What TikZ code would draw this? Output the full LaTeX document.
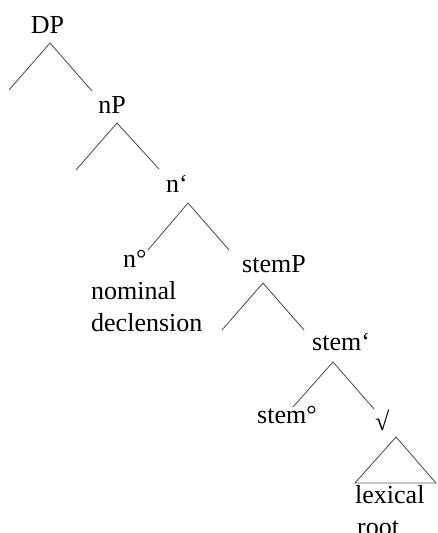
\documentclass[tikz,border=0pt]{standalone}
\usepackage{fontspec}
\setmainfont{Liberation Serif}
\usepackage{tikz}
\usetikzlibrary{positioning}

\begin{document}
\begin{tikzpicture}[
    x=1pt, y=-1pt,
    label/.style={inner sep=0pt, anchor=base west, font=\fontsize{26}{32}\selectfont},
    branch/.style={draw=black!65, line width=0.9pt}
]
\useasboundingbox (0,0) rectangle (437,533);

% Nœuds
\node[label, anchor=base] (dp) at (47.5,33) {DP};
\node[label, anchor=base] (np) at (112,113) {nP};
\node[label] (nbar) at (166,192) {n‘};
\node[label] (nhead) at (123,267) {n°};
\node[label, align=left] (decl) at (91,331) {nominal\\declension};
\node[label] (stemp) at (242,272) {stemP};
\node[label] (stembar) at (312,350) {stem‘};
\node[label] (stemhead) at (257,423) {stem°};
\node[label] (root) at (375,430) {√};
\node[label] (lex) at (355,503) {lexical};
\node[label] (rootw) at (357,535) {root};

% Points des branches
\coordinate (dp-top) at (50,43);   \coordinate (dp-l) at (9,90);    \coordinate (dp-r) at (92,91);
\coordinate (np-top) at (117,123); \coordinate (np-l) at (76,170);   \coordinate (np-r) at (159,169);
\coordinate (nbar-top) at (188,203); \coordinate (nbar-l) at (148,250); \coordinate (nbar-r) at (229,250);
\coordinate (stemp-top) at (263,283); \coordinate (stemp-l) at (222,330); \coordinate (stemp-r) at (304,330);
\coordinate (stembar-top) at (333,362); \coordinate (stembar-l) at (293,407); \coordinate (stembar-r) at (374,409);
\coordinate (tri-top) at (396,437); \coordinate (tri-l) at (355,483); \coordinate (tri-r) at (436,483);

% Branches
\draw[branch] (dp-l) -- (dp-top) -- (dp-r);
\draw[branch] (np-l) -- (np-top) -- (np-r);
\draw[branch] (nbar-l) -- (nbar-top) -- (nbar-r);
\draw[branch] (stemp-l) -- (stemp-top) -- (stemp-r);
\draw[branch] (stembar-l) -- (stembar-top) -- (stembar-r);

% Triangle
\draw[branch] (tri-top) -- (tri-l) -- (tri-r) -- cycle;
\end{tikzpicture}
\end{document}
